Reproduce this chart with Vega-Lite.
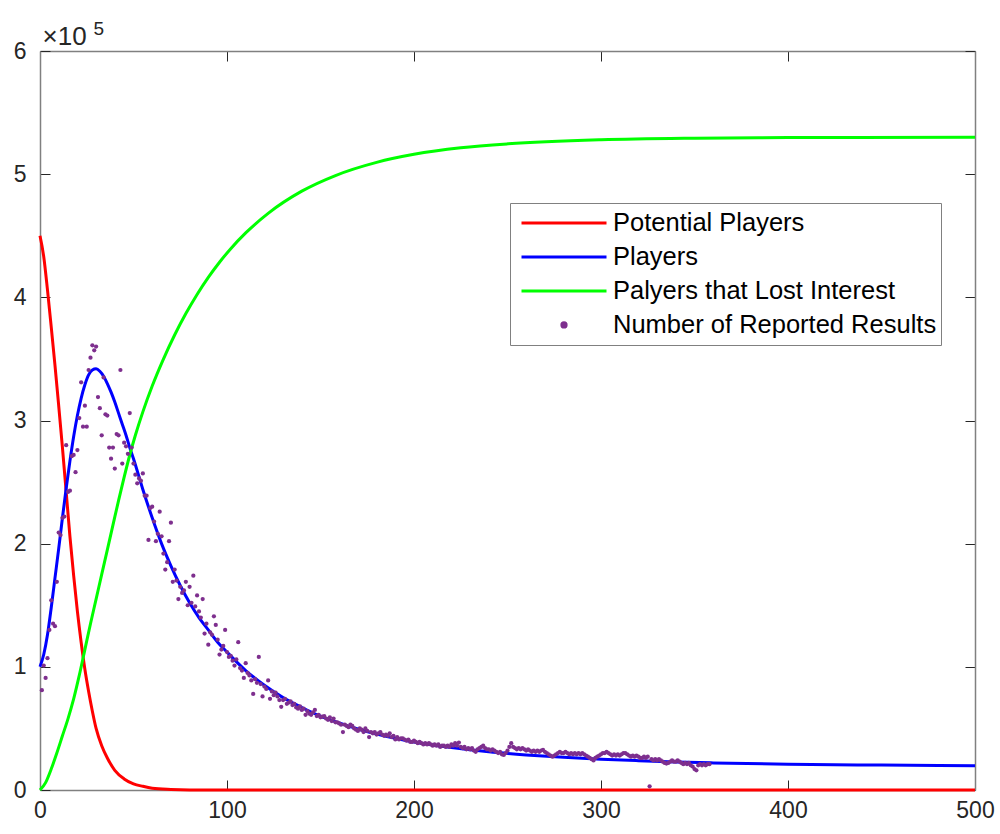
{
"$schema": "https://vega.github.io/schema/vega-lite/v6.json",
"width": 935, "height": 739,
"autosize": {"type": "none"},
"padding": {"left": 40, "top": 51, "right": 25, "bottom": 44},
"background": "white",
"config": {
  "view": {"stroke": null},
  "font": "Liberation Sans",
  "axis": {"grid": false, "domainColor": "#808080", "domainWidth": 1.5, "tickColor": "#262626", "tickWidth": 1, "tickSize": -10,
    "labelFont": "Liberation Sans", "labelFontSize": 23, "labelColor": "#262626", "labelFlush": false, "labelOverlap": false, "labelBound": false}
},
"datasets": {
"curves": [
{"x":0,"value":450000,"series":"Potential Players"},{"x":2,"value":433000,"series":"Potential Players"},{"x":4,"value":406000,"series":"Potential Players"},{"x":6,"value":376000,"series":"Potential Players"},{"x":8,"value":345000,"series":"Potential Players"},{"x":10,"value":312000,"series":"Potential Players"},{"x":12,"value":278000,"series":"Potential Players"},{"x":14,"value":242000,"series":"Potential Players"},{"x":16,"value":206000,"series":"Potential Players"},{"x":18,"value":174000,"series":"Potential Players"},{"x":20,"value":145000,"series":"Potential Players"},{"x":22,"value":120000,"series":"Potential Players"},{"x":24,"value":98000,"series":"Potential Players"},{"x":26,"value":80000,"series":"Potential Players"},{"x":28,"value":64000,"series":"Potential Players"},{"x":30,"value":50000,"series":"Potential Players"},{"x":33,"value":36000,"series":"Potential Players"},{"x":36,"value":26000,"series":"Potential Players"},{"x":40,"value":16000,"series":"Potential Players"},{"x":45,"value":9000,"series":"Potential Players"},{"x":50,"value":5000,"series":"Potential Players"},{"x":55,"value":3000,"series":"Potential Players"},{"x":60,"value":1500,"series":"Potential Players"},{"x":70,"value":500,"series":"Potential Players"},{"x":80,"value":100,"series":"Potential Players"},{"x":100,"value":0,"series":"Potential Players"},{"x":200,"value":0,"series":"Potential Players"},{"x":300,"value":0,"series":"Potential Players"},{"x":400,"value":0,"series":"Potential Players"},{"x":500,"value":0,"series":"Potential Players"},
{"x":0,"value":100000,"series":"Players"},{"x":2,"value":110000,"series":"Players"},{"x":4,"value":126000,"series":"Players"},{"x":6,"value":148000,"series":"Players"},{"x":8,"value":172000,"series":"Players"},{"x":10,"value":196000,"series":"Players"},{"x":12,"value":221000,"series":"Players"},{"x":14,"value":245000,"series":"Players"},{"x":16,"value":267000,"series":"Players"},{"x":18,"value":287000,"series":"Players"},{"x":20,"value":304000,"series":"Players"},{"x":22,"value":318000,"series":"Players"},{"x":24,"value":329000,"series":"Players"},{"x":26,"value":337000,"series":"Players"},{"x":28,"value":341000,"series":"Players"},{"x":30,"value":342000,"series":"Players"},{"x":32,"value":340000,"series":"Players"},{"x":34,"value":336000,"series":"Players"},{"x":36,"value":330000,"series":"Players"},{"x":38,"value":323000,"series":"Players"},{"x":40,"value":315000,"series":"Players"},{"x":42,"value":306000,"series":"Players"},{"x":44,"value":297000,"series":"Players"},{"x":46,"value":288000,"series":"Players"},{"x":48,"value":278000,"series":"Players"},{"x":50,"value":269000,"series":"Players"},{"x":55,"value":244000,"series":"Players"},{"x":60,"value":221000,"series":"Players"},{"x":65,"value":200000,"series":"Players"},{"x":70,"value":182000,"series":"Players"},{"x":75,"value":166000,"series":"Players"},{"x":80,"value":152000,"series":"Players"},{"x":85,"value":140000,"series":"Players"},{"x":90,"value":130000,"series":"Players"},{"x":95,"value":120000,"series":"Players"},{"x":100,"value":112000,"series":"Players"},{"x":110,"value":97000,"series":"Players"},{"x":120,"value":85000,"series":"Players"},{"x":130,"value":75000,"series":"Players"},{"x":140,"value":67000,"series":"Players"},{"x":150,"value":60000,"series":"Players"},{"x":160,"value":54500,"series":"Players"},{"x":170,"value":49500,"series":"Players"},{"x":180,"value":45500,"series":"Players"},{"x":190,"value":42000,"series":"Players"},{"x":200,"value":39000,"series":"Players"},{"x":220,"value":34500,"series":"Players"},{"x":240,"value":31000,"series":"Players"},{"x":260,"value":28500,"series":"Players"},{"x":280,"value":26500,"series":"Players"},{"x":300,"value":25000,"series":"Players"},{"x":320,"value":23800,"series":"Players"},{"x":340,"value":22800,"series":"Players"},{"x":360,"value":22000,"series":"Players"},{"x":400,"value":21000,"series":"Players"},{"x":450,"value":20200,"series":"Players"},{"x":500,"value":19700,"series":"Players"},
{"x":0,"value":0,"series":"Palyers that Lost Interest"},{"x":3,"value":6000,"series":"Palyers that Lost Interest"},{"x":6,"value":17000,"series":"Palyers that Lost Interest"},{"x":9,"value":30000,"series":"Palyers that Lost Interest"},{"x":12,"value":44000,"series":"Palyers that Lost Interest"},{"x":15,"value":58000,"series":"Palyers that Lost Interest"},{"x":18,"value":74000,"series":"Palyers that Lost Interest"},{"x":21,"value":93000,"series":"Palyers that Lost Interest"},{"x":24,"value":114000,"series":"Palyers that Lost Interest"},{"x":27,"value":135000,"series":"Palyers that Lost Interest"},{"x":30,"value":155000,"series":"Palyers that Lost Interest"},{"x":33,"value":175000,"series":"Palyers that Lost Interest"},{"x":36,"value":195000,"series":"Palyers that Lost Interest"},{"x":39,"value":215000,"series":"Palyers that Lost Interest"},{"x":42,"value":235000,"series":"Palyers that Lost Interest"},{"x":45,"value":254000,"series":"Palyers that Lost Interest"},{"x":48,"value":272000,"series":"Palyers that Lost Interest"},{"x":51,"value":288000,"series":"Palyers that Lost Interest"},{"x":55,"value":307000,"series":"Palyers that Lost Interest"},{"x":60,"value":328000,"series":"Palyers that Lost Interest"},{"x":66,"value":349900,"series":"Palyers that Lost Interest"},{"x":72,"value":369400,"series":"Palyers that Lost Interest"},{"x":78,"value":386800,"series":"Palyers that Lost Interest"},{"x":84,"value":402300,"series":"Palyers that Lost Interest"},{"x":90,"value":416200,"series":"Palyers that Lost Interest"},{"x":96,"value":428500,"series":"Palyers that Lost Interest"},{"x":102,"value":439500,"series":"Palyers that Lost Interest"},{"x":110,"value":452300,"series":"Palyers that Lost Interest"},{"x":122,"value":468200,"series":"Palyers that Lost Interest"},{"x":140,"value":486200,"series":"Palyers that Lost Interest"},{"x":158,"value":498900,"series":"Palyers that Lost Interest"},{"x":180,"value":509600,"series":"Palyers that Lost Interest"},{"x":200,"value":516100,"series":"Palyers that Lost Interest"},{"x":225,"value":521400,"series":"Palyers that Lost Interest"},{"x":250,"value":524600,"series":"Palyers that Lost Interest"},{"x":300,"value":527900,"series":"Palyers that Lost Interest"},{"x":350,"value":529200,"series":"Palyers that Lost Interest"},{"x":400,"value":529700,"series":"Palyers that Lost Interest"},{"x":500,"value":530000,"series":"Palyers that Lost Interest"}
],
"reported": [
{"x":1,"value":81000},{"x":2,"value":101000},{"x":3,"value":91000},{"x":4,"value":107000},{"x":5,"value":130000},{"x":6,"value":154000},{"x":7,"value":135000},{"x":8,"value":133000},{"x":9,"value":169000},{"x":10,"value":209000},
{"x":11,"value":207000},{"x":12,"value":221000},{"x":13,"value":222000},{"x":14,"value":280000},{"x":15,"value":242000},{"x":16,"value":243000},{"x":17,"value":271000},{"x":18,"value":272000},{"x":19,"value":258000},{"x":20,"value":276000},
{"x":21,"value":302000},{"x":22,"value":331000},{"x":23,"value":295000},{"x":24,"value":312000},{"x":25,"value":295000},{"x":26,"value":341000},{"x":27,"value":351000},{"x":28,"value":361000},{"x":29,"value":357000},{"x":30,"value":360000},
{"x":31,"value":319000},{"x":32,"value":310000},{"x":33,"value":288000},{"x":34,"value":335000},{"x":35,"value":305000},{"x":36,"value":304000},{"x":37,"value":278000},{"x":38,"value":269000},{"x":39,"value":278000},{"x":40,"value":261000},
{"x":41,"value":289000},{"x":42,"value":288000},{"x":43,"value":341000},{"x":44,"value":265000},{"x":45,"value":282000},{"x":46,"value":279000},{"x":47,"value":273000},{"x":48,"value":306000},{"x":49,"value":278000},{"x":50,"value":265000},
{"x":51,"value":256000},{"x":52,"value":249000},{"x":53,"value":253000},{"x":54,"value":251000},{"x":55,"value":257000},{"x":56,"value":239000},{"x":57,"value":239000},{"x":58,"value":203000},{"x":59,"value":229000},{"x":60,"value":230000},
{"x":61,"value":218000},{"x":62,"value":202000},{"x":63,"value":208000},{"x":64,"value":226000},{"x":65,"value":206000},{"x":66,"value":192000},{"x":67,"value":179000},{"x":68,"value":185000},{"x":69,"value":202000},{"x":70,"value":217000},
{"x":71,"value":169000},{"x":72,"value":179000},{"x":73,"value":170000},{"x":74,"value":155000},{"x":75,"value":165000},{"x":76,"value":160000},{"x":77,"value":162000},{"x":78,"value":169000},{"x":79,"value":150000},{"x":80,"value":165000},
{"x":81,"value":152000},{"x":82,"value":174000},{"x":83,"value":149000},{"x":84,"value":158000},{"x":85,"value":145000},{"x":86,"value":140000},{"x":87,"value":155000},{"x":88,"value":127000},{"x":89,"value":135000},{"x":90,"value":118000},
{"x":91,"value":128000},{"x":92,"value":126000},{"x":93,"value":141000},{"x":94,"value":134000},{"x":95,"value":122000},{"x":96,"value":110000},{"x":97,"value":114000},{"x":98,"value":117000},{"x":99,"value":130000},{"x":100,"value":112000},
{"x":101,"value":108000},{"x":102,"value":109000},{"x":103,"value":105000},{"x":104,"value":101000},{"x":105,"value":106000},{"x":106,"value":120000},{"x":107,"value":99000},{"x":108,"value":97000},{"x":109,"value":91000},{"x":110,"value":103000},
{"x":111,"value":95000},{"x":112,"value":93000},{"x":113,"value":89000},{"x":114,"value":78000},{"x":115,"value":90000},{"x":116,"value":87000},{"x":117,"value":108000},{"x":118,"value":86000},{"x":119,"value":76000},{"x":120,"value":84000},
{"x":121,"value":82000},{"x":122,"value":89000},{"x":123,"value":74000},{"x":124,"value":80000},{"x":125,"value":77000},{"x":126,"value":79000},{"x":127,"value":76000},{"x":128,"value":73000},{"x":129,"value":67500},{"x":130,"value":73000},
{"x":131,"value":74000},{"x":132,"value":70000},{"x":133,"value":71000},{"x":134,"value":72000},{"x":135,"value":69000},{"x":136,"value":70000},{"x":137,"value":67000},{"x":138,"value":66000},{"x":139,"value":68000},{"x":140,"value":65000},
{"x":141,"value":66000},{"x":142,"value":61000},{"x":143,"value":64000},{"x":144,"value":62000},{"x":145,"value":61000},{"x":146,"value":63000},{"x":147,"value":65000},{"x":148,"value":60000},{"x":149,"value":61000},{"x":150,"value":59000},
{"x":151,"value":59500},{"x":152,"value":60000},{"x":153,"value":58000},{"x":154,"value":57000},{"x":155,"value":59000},{"x":156,"value":56000},{"x":157,"value":58000},{"x":158,"value":55000},{"x":159,"value":55000},{"x":160,"value":54000},
{"x":161,"value":53000},{"x":162,"value":47000},{"x":163,"value":53000},{"x":164,"value":52000},{"x":165,"value":51000},{"x":166,"value":53000},{"x":167,"value":52000},{"x":168,"value":50000},{"x":169,"value":49000},{"x":170,"value":48000},
{"x":171,"value":50000},{"x":172,"value":49000},{"x":173,"value":47000},{"x":174,"value":50000},{"x":175,"value":48000},{"x":176,"value":43000},{"x":177,"value":47000},{"x":178,"value":46000},{"x":179,"value":47000},{"x":180,"value":45000},
{"x":181,"value":46000},{"x":182,"value":47000},{"x":183,"value":45000},{"x":184,"value":44000},{"x":185,"value":45000},{"x":186,"value":44000},{"x":187,"value":46000},{"x":188,"value":43000},{"x":189,"value":44000},{"x":190,"value":41000},
{"x":191,"value":43000},{"x":192,"value":41000},{"x":193,"value":42000},{"x":194,"value":42000},{"x":195,"value":41000},{"x":196,"value":40000},{"x":197,"value":41000},{"x":198,"value":39000},{"x":199,"value":39000},{"x":200,"value":40000},
{"x":201,"value":39000},{"x":202,"value":38000},{"x":203,"value":39000},{"x":204,"value":38000},{"x":205,"value":37000},{"x":206,"value":38000},{"x":207,"value":37000},{"x":208,"value":38000},{"x":209,"value":37000},{"x":210,"value":36000},
{"x":211,"value":37000},{"x":212,"value":36000},{"x":213,"value":37000},{"x":214,"value":35000},{"x":215,"value":36000},{"x":216,"value":36000},{"x":217,"value":35000},{"x":218,"value":36000},{"x":219,"value":35000},{"x":220,"value":37000},
{"x":221,"value":36000},{"x":222,"value":38000},{"x":223,"value":36000},{"x":224,"value":38500},{"x":225,"value":35000},{"x":226,"value":34000},{"x":227,"value":35000},{"x":228,"value":33000},{"x":229,"value":34000},{"x":230,"value":33000},
{"x":231,"value":34000},{"x":232,"value":32000},{"x":233,"value":31000},{"x":234,"value":33000},{"x":235,"value":34000},{"x":236,"value":35000},{"x":237,"value":36000},{"x":238,"value":34000},{"x":239,"value":33000},{"x":240,"value":33000},
{"x":241,"value":32000},{"x":242,"value":33000},{"x":243,"value":32000},{"x":244,"value":31000},{"x":245,"value":30000},{"x":246,"value":31000},{"x":247,"value":29000},{"x":248,"value":28500},{"x":249,"value":30000},{"x":250,"value":32000},
{"x":251,"value":35000},{"x":252,"value":38000},{"x":253,"value":35000},{"x":254,"value":34000},{"x":255,"value":33000},{"x":256,"value":34000},{"x":257,"value":33000},{"x":258,"value":34000},{"x":259,"value":33000},{"x":260,"value":32000},
{"x":261,"value":33000},{"x":262,"value":32000},{"x":263,"value":31000},{"x":264,"value":32000},{"x":265,"value":31000},{"x":266,"value":32000},{"x":267,"value":31000},{"x":268,"value":32000},{"x":269,"value":32500},{"x":270,"value":31000},
{"x":271,"value":30000},{"x":272,"value":29000},{"x":273,"value":28000},{"x":274,"value":27000},{"x":275,"value":28000},{"x":276,"value":29000},{"x":277,"value":30000},{"x":278,"value":31000},{"x":279,"value":30000},{"x":280,"value":30000},
{"x":281,"value":31000},{"x":282,"value":30000},{"x":283,"value":29000},{"x":284,"value":30000},{"x":285,"value":29000},{"x":286,"value":30000},{"x":287,"value":29000},{"x":288,"value":30000},{"x":289,"value":29000},{"x":290,"value":30000},
{"x":291,"value":29000},{"x":292,"value":28000},{"x":293,"value":27000},{"x":294,"value":26000},{"x":295,"value":25000},{"x":296,"value":24000},{"x":297,"value":26000},{"x":298,"value":27000},{"x":299,"value":28000},{"x":300,"value":29000},
{"x":301,"value":30000},{"x":302,"value":30000},{"x":303,"value":31000},{"x":304,"value":30000},{"x":305,"value":29000},{"x":306,"value":28000},{"x":307,"value":29000},{"x":308,"value":28000},{"x":309,"value":29000},{"x":310,"value":28000},
{"x":311,"value":29000},{"x":312,"value":30000},{"x":313,"value":30000},{"x":314,"value":29000},{"x":315,"value":28000},{"x":316,"value":27000},{"x":317,"value":28000},{"x":318,"value":27000},{"x":319,"value":28000},{"x":320,"value":27000},
{"x":321,"value":26000},{"x":322,"value":26000},{"x":323,"value":27000},{"x":324,"value":26000},{"x":325,"value":27000},{"x":326,"value":3000},{"x":327,"value":25000},{"x":328,"value":24000},{"x":329,"value":25000},{"x":330,"value":24000},
{"x":331,"value":25000},{"x":332,"value":24000},{"x":333,"value":23000},{"x":334,"value":22000},{"x":335,"value":21500},{"x":336,"value":22000},{"x":337,"value":23000},{"x":338,"value":24000},{"x":339,"value":23000},{"x":340,"value":23000},
{"x":341,"value":24000},{"x":342,"value":23000},{"x":343,"value":22000},{"x":344,"value":21000},{"x":345,"value":22000},{"x":346,"value":21000},{"x":347,"value":22000},{"x":348,"value":20000},{"x":349,"value":19000},{"x":350,"value":17000},
{"x":351,"value":16000},{"x":352,"value":20000},{"x":353,"value":21000},{"x":354,"value":20000},{"x":355,"value":21000},{"x":356,"value":20000},{"x":357,"value":21000},{"x":358,"value":21000}
]
},
"resolve": {"axis": {"x": "independent", "y": "independent"}},
"layer": [
  {
    "data": {"name": "curves"},
    "mark": {"type": "line", "strokeWidth": 3, "interpolate": "monotone"},
    "encoding": {
      "x": {"field": "x", "type": "quantitative", "scale": {"domain": [0, 500], "nice": false},
        "axis": {"orient": "bottom", "values": [0, 100, 200, 300, 400, 500], "labelPadding": 19, "title": null}},
      "y": {"field": "value", "type": "quantitative", "scale": {"domain": [0, 600000], "nice": false},
        "axis": {"orient": "left", "values": [0, 100000, 200000, 300000, 400000, 500000, 600000], "labelExpr": "format(datum.value / 100000, 'd')", "labelPadding": 24,
          "title": "×10", "titleAngle": 0, "titleAlign": "left", "titleBaseline": "alphabetic", "titleX": 2, "titleY": -7,
          "titleFont": "Liberation Sans", "titleFontSize": 26, "titleFontWeight": "normal", "titleColor": "#262626"}},
      "color": {"field": "series", "type": "nominal",
        "scale": {"domain": ["Potential Players", "Players", "Palyers that Lost Interest", "Number of Reported Results"], "range": ["#ff0000", "#0000ff", "#00ff00", "#7e2f8e"]},
        "legend": {"title": null, "orient": "none", "legendX": 470, "legendY": 152, "direction": "vertical",
          "strokeColor": "#808080", "fillColor": "white", "padding": 4, "cornerRadius": 0,
          "labelFont": "Liberation Sans", "labelFontSize": 25.5, "labelColor": "#000000", "labelLimit": 500, "labelOffset": 5,
          "symbolType": "stroke", "symbolSize": 7225, "symbolStrokeWidth": 3, "clipHeight": 31.9, "rowPadding": 2, "symbolOffset": 6,
          "encode": {"symbols": {"update": {
            "shape": {"signal": "datum.value === 'Number of Reported Results' ? 'circle' : 'stroke'"},
            "size": {"signal": "datum.value === 'Number of Reported Results' ? 18 : 7225"},
            "fill": {"signal": "datum.value === 'Number of Reported Results' ? '#7e2f8e' : 'transparent'"},
            "stroke": {"signal": "datum.value === 'Number of Reported Results' ? 'transparent' : scale('color', datum.value)"},
            "strokeWidth": {"value": 3},
            "opacity": {"value": 1}
          }}}}
      }
    }
  },
  {
    "data": {"name": "reported"},
    "mark": {"type": "point", "filled": true, "size": 18, "opacity": 1},
    "encoding": {
      "x": {"field": "x", "type": "quantitative", "axis": {"orient": "top", "labels": false, "title": null, "values": [0, 100, 200, 300, 400, 500]}},
      "y": {"field": "value", "type": "quantitative", "axis": {"orient": "right", "labels": false, "values": [0, 100000, 200000, 300000, 400000, 500000, 600000],
        "title": "5", "titleAngle": 0, "titleAlign": "left", "titleBaseline": "alphabetic", "titleX": -882, "titleY": -17,
        "titleFont": "Liberation Sans", "titleFontSize": 19, "titleFontWeight": "normal", "titleColor": "#262626"}},
      "color": {"datum": "Number of Reported Results", "type": "nominal"}
    }
  }
]
}
